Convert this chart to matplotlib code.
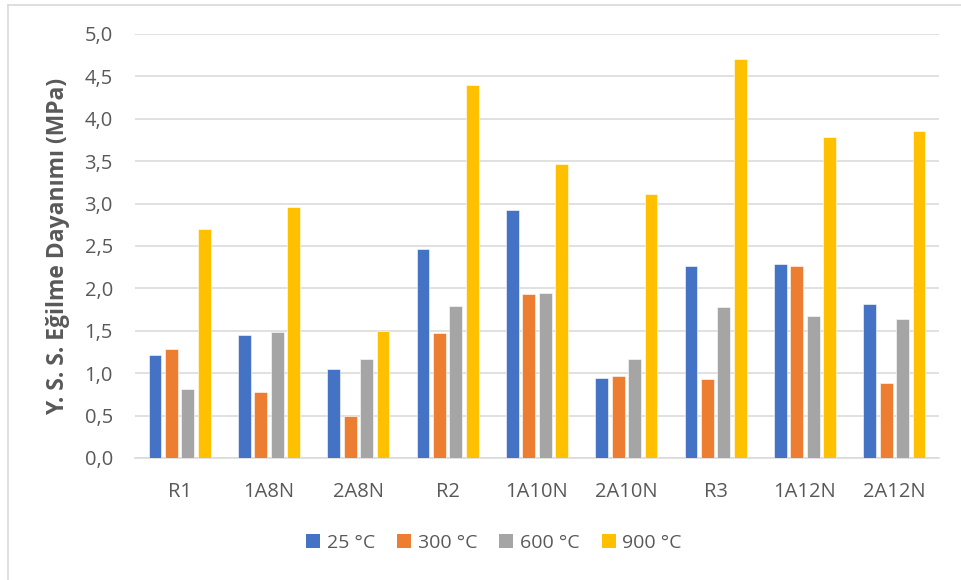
import matplotlib
matplotlib.use("Agg")
import matplotlib.pyplot as plt
from matplotlib.patches import Patch
from matplotlib.lines import Line2D
import numpy as np

categories = ["R1", "1A8N", "2A8N", "R2", "1A10N", "2A10N", "R3", "1A12N", "2A12N"]
series_names = ["25 °C", "300 °C", "600 °C", "900 °C"]
vals_25 = [1.22, 1.45, 1.05, 2.46, 2.93, 0.94, 2.26, 2.29, 1.82]
vals_300 = [1.28, 0.78, 0.50, 1.47, 1.93, 0.97, 0.93, 2.26, 0.89]
vals_600 = [0.81, 1.48, 1.17, 1.79, 1.95, 1.17, 1.78, 1.67, 1.64]
vals_900 = [2.70, 2.96, 1.50, 4.40, 3.47, 3.11, 4.70, 3.78, 3.86]
yticks = [0.0, 0.5, 1.0, 1.5, 2.0, 2.5, 3.0, 3.5, 4.0, 4.5, 5.0]

colors = ["#4472C4", "#ED7D31", "#A5A5A5", "#FFC000"]
text_color = "#595959"
plt.rcParams["font.family"] = ["Open Sans", "DejaVu Sans"]

fig = plt.figure(figsize=(9.61, 5.80), dpi=100)
ax = fig.add_axes([135 / 961, 1 - 458 / 580, (939 - 135) / 961, (458 - 34) / 580])

x = np.arange(len(categories))
step = 0.183
width = 0.142
all_vals = [vals_25, vals_300, vals_600, vals_900]
for i, (vals, c) in enumerate(zip(all_vals, colors)):
    ax.bar(x + (i - 1.5) * step, vals, width=width, color=c, zorder=3,
           edgecolor="white", linewidth=0.4)

ax.set_xlim(-0.5, len(categories) - 0.5)
ax.set_ylim(0, 5.0)
ax.set_yticks(yticks)
ax.set_yticklabels([f"{t:.1f}".replace(".", ",") for t in yticks])
ax.set_xticks(x)
ax.set_xticklabels(categories)
ax.tick_params(axis="both", length=0, colors=text_color, labelsize=14.5)
ax.tick_params(axis="x", pad=17)
ax.tick_params(axis="y", pad=16)
ax.yaxis.grid(True, color="#D9D9D9", linewidth=1.1, zorder=0)
for s in ["top", "right", "left"]:
    ax.spines[s].set_visible(False)
ax.spines["bottom"].set_color("#D9D9D9")
ax.spines["bottom"].set_linewidth(1.1)

ax.set_ylabel("Y. S. S. Eğilme Dayanımı (MPa)", fontsize=16.5, fontweight="bold",
              color=text_color, labelpad=10)

handles = [Patch(facecolor=c, edgecolor="none") for c in colors]
fig.legend(handles, series_names, loc="center", bbox_to_anchor=(494 / 961, 1 - 543 / 580),
           ncol=4, frameon=False, fontsize=14, labelcolor=text_color,
           handlelength=0.7, handleheight=0.7, handletextpad=0.35, columnspacing=1.15)

# chart border (left and top edges)
fig.add_artist(Line2D([8 / 961, 8 / 961], [0, 1 - 5 / 580], transform=fig.transFigure,
                      color="#D9D9D9", linewidth=1.2))
fig.add_artist(Line2D([8 / 961, 1], [1 - 5 / 580, 1 - 5 / 580], transform=fig.transFigure,
                      color="#D9D9D9", linewidth=1.2))

fig.savefig("out.png", dpi=100)
